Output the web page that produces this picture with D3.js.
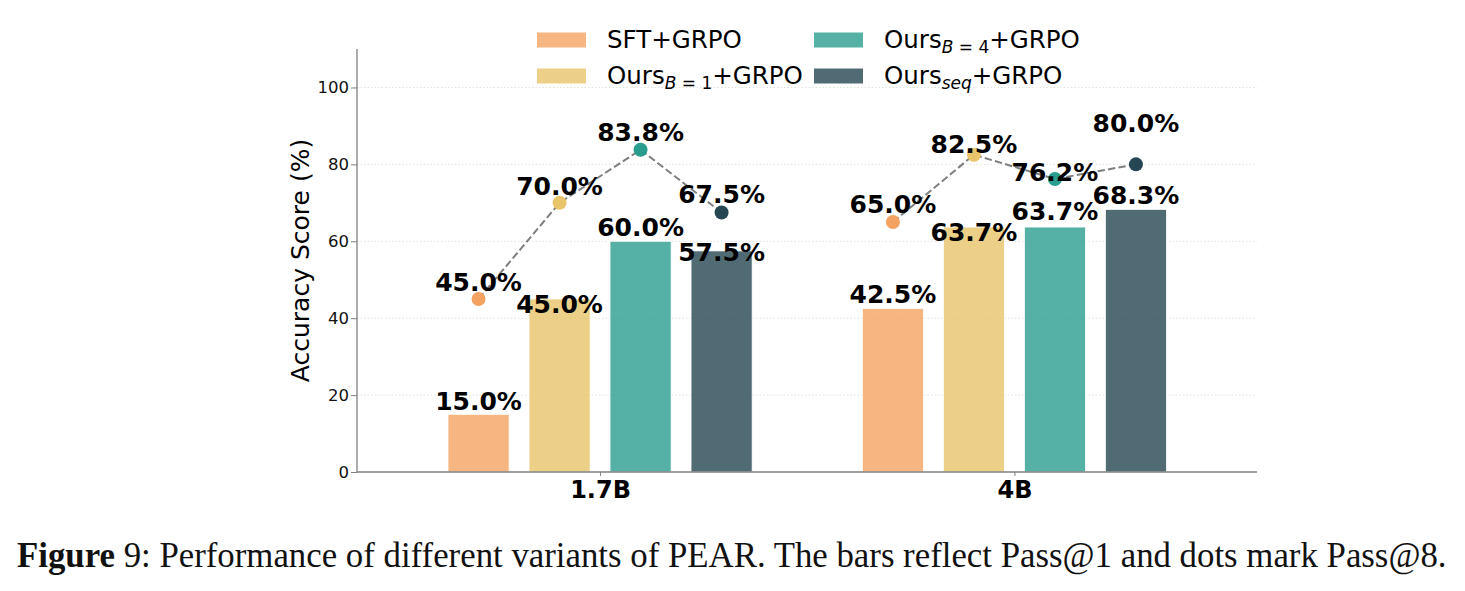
<!DOCTYPE html>
<html>
<head>
<meta charset="utf-8">
<script src="https://cdn.jsdelivr.net/npm/d3@7"></script>
<style>
  body { margin: 0; background: #fff; }
  svg { display: block; }
</style>
</head>
<body>
<svg id="chart" width="1465" height="591"></svg>
<script>
// groups on the x axis
var groups = ["1.7B", "4B"];

// series: legend text is "Ours" + subscript + "+GRPO"
var series_base = ["SFT", "Ours", "Ours", "Ours"];
var series_sub = [null, ["B", " = 1"], ["B", " = 4"], ["seq", ""]];
var series_tail = ["+GRPO", "+GRPO", "+GRPO", "+GRPO"];

// Pass@1 (bars), one array per group in series order
var pass1_17b = [15.0, 45.0, 60.0, 57.5];
var pass1_4b = [42.5, 63.7, 63.7, 68.3];

// Pass@8 (dots)
var pass8_17b = [45.0, 70.0, 83.8, 67.5];
var pass8_4b = [65.0, 82.5, 76.2, 80.0];

var y_ticks = [0, 20, 40, 60, 80, 100];

// label nudges (px, baseline relative to bar top / dot centre), as placed in the figure
var bar_label_shift = [[-4, 14, -5, 10.5], [-6, 14, -6.7, -5.4]];
var dot_label_shift = [[-8.3, -8.2, -8.5, -9.5], [-9.4, -2, 1.6, -32.5]];

var dot_colors = ["#F4A261", "#E9C46A", "#2A9D8F", "#264653"];

var pass1 = [pass1_17b, pass1_4b];
var pass8 = [pass8_17b, pass8_4b];

var margin = {left: 357, right: 208, top: 49, bottom: 119};
var width = 1465 - margin.left - margin.right,
    height = 591 - margin.top - margin.bottom;

var svg = d3.select("#chart");
var g = svg.append("g")
  .attr("transform", "translate(" + margin.left + "," + margin.top + ")");

var y_scaler = d3.scaleLinear().domain([0, 110]).range([height, 0]);
var x_scaler = d3.scaleLinear().domain([-0.5866, 1.5854]).range([0, width]);

var step = 0.1955, bar_w = 0.1475;
function barX(gi, si) { return x_scaler(gi + (si - 1.5) * step); }

// grid
g.selectAll(".grid")
  .data(y_ticks.slice(1))
  .enter().append("line")
  .attr("x1", 0).attr("x2", width)
  .attr("y1", function(d) { return y_scaler(d); })
  .attr("y2", function(d) { return y_scaler(d); })
  .style("stroke", "#d9d9d9")
  .style("stroke-width", 0.8)
  .style("stroke-dasharray", "1.5,2");

// bars
var bar_groups = g.selectAll(".grp")
  .data(groups)
  .enter().append("g").attr("class", "grp");

bar_groups.selectAll("rect")
  .data(function(d, gi) { return pass1[gi].map(function(v, si) { return {gi: gi, si: si, v: v}; }); })
  .enter().append("rect")
  .attr("x", function(d) { return barX(d.gi, d.si) - (x_scaler(bar_w) - x_scaler(0)) / 2; })
  .attr("width", x_scaler(bar_w) - x_scaler(0))
  .attr("y", function(d) { return y_scaler(d.v); })
  .attr("height", function(d) { return y_scaler(0) - y_scaler(d.v); })
  .style("fill", function(d) { return dot_colors[d.si]; })
  .style("fill-opacity", 0.8)
  .style("stroke", "#fff")
  .style("stroke-width", 0.8);

// dashed lines + dots
var line = d3.line()
  .x(function(d) { return barX(d.gi, d.si); })
  .y(function(d) { return y_scaler(d.v); });

groups.forEach(function(name, gi) {
  var pts = pass8[gi].map(function(v, si) { return {gi: gi, si: si, v: v}; });
  g.append("path")
    .datum(pts)
    .attr("d", line)
    .style("fill", "none")
    .style("stroke", "#7f7f7f")
    .style("stroke-width", 2)
    .style("stroke-dasharray", "7.4,3.2");
  g.selectAll(".dot" + gi)
    .data(pts)
    .enter().append("circle")
    .attr("cx", function(d) { return barX(d.gi, d.si); })
    .attr("cy", function(d) { return y_scaler(d.v); })
    .attr("r", 7)
    .style("fill", function(d) { return dot_colors[d.si]; });
});

// value labels
groups.forEach(function(name, gi) {
  g.selectAll(".blab" + gi)
    .data(pass1[gi])
    .enter().append("text")
    .attr("x", function(d, si) { return barX(gi, si); })
    .attr("y", function(d, si) { return y_scaler(d) + bar_label_shift[gi][si]; })
    .attr("text-anchor", "middle")
    .style("font", "bold 25px 'DejaVu Sans'")
    .text(function(d) { return d.toFixed(1) + "%"; });
  g.selectAll(".dlab" + gi)
    .data(pass8[gi])
    .enter().append("text")
    .attr("x", function(d, si) { return barX(gi, si); })
    .attr("y", function(d, si) { return y_scaler(d) + dot_label_shift[gi][si]; })
    .attr("text-anchor", "middle")
    .style("font", "bold 25px 'DejaVu Sans'")
    .text(function(d) { return d.toFixed(1) + "%"; });
});

// axes
var y_axis = g.append("g")
  .call(d3.axisLeft(y_scaler).tickValues(y_ticks).tickSize(6).tickPadding(2));
y_axis.select(".domain").remove();
y_axis.selectAll("text").style("font", "16.5px 'DejaVu Sans'").style("fill", "#111");
y_axis.selectAll(".tick line").style("stroke", "#808080");

var x_axis = g.append("g")
  .attr("transform", "translate(0," + height + ")")
  .call(d3.axisBottom(x_scaler).tickValues([0, 1]).tickSize(4).tickPadding(6)
    .tickFormat(function(d) { return groups[d]; }));
x_axis.select(".domain").remove();
x_axis.selectAll("text").style("font", "bold 24px 'DejaVu Sans'").style("fill", "#000")
  .attr("dy", null).attr("y", 26);
x_axis.selectAll(".tick line").style("stroke", "#808080");

// spines (left and bottom only)
g.append("line").attr("x1", 0).attr("x2", 0).attr("y1", 0).attr("y2", height)
  .style("stroke", "#808080").style("stroke-width", 1.3);
g.append("line").attr("x1", 0).attr("x2", width).attr("y1", height).attr("y2", height)
  .style("stroke", "#808080").style("stroke-width", 1.3);

// y label
svg.append("text")
  .attr("transform", "translate(309," + (margin.top + height / 2) + ") rotate(-90)")
  .attr("text-anchor", "middle")
  .style("font", "25px 'DejaVu Sans'")
  .text("Accuracy Score (%)");

// legend, 2 columns, filled column-first
var legend_x = [537, 814], legend_y = [40, 76];
series_base.forEach(function(base, i) {
  var col = Math.floor(i / 2), row = i % 2;
  var lg = svg.append("g")
    .attr("transform", "translate(" + legend_x[col] + "," + legend_y[row] + ")");
  lg.append("rect")
    .attr("x", 0).attr("y", -7.5).attr("width", 49).attr("height", 15)
    .style("fill", dot_colors[i]).style("fill-opacity", 0.8);
  var t = lg.append("text")
    .attr("x", 70).attr("y", 8)
    .style("font", "24.5px 'DejaVu Sans'");
  t.append("tspan").text(base);
  if (series_sub[i]) {
    t.append("tspan").attr("dy", 5).style("font-size", "17px").style("font-style", "italic")
      .text(series_sub[i][0]);
    if (series_sub[i][1]) {
      t.append("tspan").style("font-size", "17px").text(series_sub[i][1]);
    }
    t.append("tspan").attr("dy", -5).text(series_tail[i]);
  } else {
    t.append("tspan").text(series_tail[i]);
  }
});

// caption
var cap = svg.append("text")
  .attr("x", 17).attr("y", 567)
  .style("font-family", "'Liberation Serif', serif")
  .style("font-size", "30px")
  .style("fill", "#111");
cap.append("tspan").style("font-weight", "bold").text("Figure");
cap.append("tspan").text(" 9: Performance of different variants of PEAR. The bars reflect Pass@1 and dots mark Pass@8.");
var cap_w = cap.node().getComputedTextLength();
cap.style("font-size", (30 * 1430 / cap_w) + "px");
</script>
</body>
</html>
